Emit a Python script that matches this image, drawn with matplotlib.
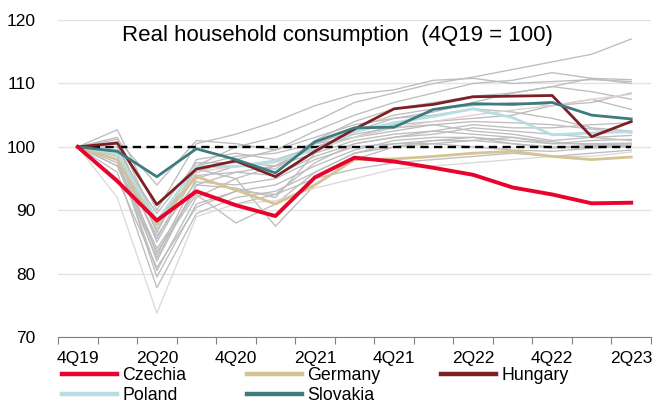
import matplotlib
matplotlib.use("Agg")
import matplotlib.pyplot as plt
import matplotlib.lines as mlines
from matplotlib.ticker import FixedLocator

plt.rcParams['font.family'] = ['Liberation Sans', 'DejaVu Sans']

quarters = ["4Q19", "1Q20", "2Q20", "3Q20", "4Q20", "1Q21", "2Q21", "3Q21",
            "4Q21", "1Q22", "2Q22", "3Q22", "4Q22", "1Q23", "2Q23"]

czechia  = [100, 94.6, 88.4, 93.0, 90.8, 89.1, 95.2, 98.3, 97.7, 96.7, 95.6, 93.6, 92.5, 91.1, 91.2]
germany  = [100, 98.0, 87.8, 95.3, 93.2, 91.0, 94.0, 98.0, 98.1, 98.5, 99.0, 99.3, 98.5, 98.0, 98.4]
hungary  = [100, 100.6, 90.9, 96.5, 97.8, 95.3, 99.3, 102.8, 106.0, 106.7, 107.9, 108.0, 108.1, 101.6, 104.0]
poland   = [100, 98.9, 88.3, 96.9, 96.9, 97.8, 99.5, 102.4, 103.8, 104.8, 106.0, 104.6, 101.9, 102.2, 102.4]
slovakia = [100, 99.3, 95.3, 99.7, 98.0, 95.9, 100.8, 103.0, 103.1, 105.9, 106.8, 106.7, 107.0, 105.0, 104.4]

others = [
    [100, 101.5, 88.0, 97.0, 100.0, 101.5, 104.0, 107.0, 108.5, 110.0, 111.0, 112.2, 113.4, 114.6, 117.0],
    [100, 102.7, 90.0, 100.5, 102.0, 104.0, 106.5, 108.3, 109.0, 110.5, 110.8, 110.0, 110.3, 110.6, 110.3],
    [100, 100.5, 85.0, 96.0, 98.0, 99.5, 102.5, 105.0, 107.0, 108.5, 110.0, 110.5, 111.7, 110.8, 110.0],
    [100, 99.5, 83.0, 95.0, 97.0, 96.5, 101.0, 104.0, 106.0, 107.0, 108.0, 108.5, 109.5, 110.8, 110.6],
    [100, 99.0, 82.0, 94.0, 93.5, 92.0, 99.0, 103.0, 105.0, 106.0, 106.5, 107.0, 106.5, 107.5, 105.9],
    [100, 98.0, 80.5, 92.0, 95.0, 97.0, 100.5, 102.5, 104.5, 105.0, 106.0, 105.5, 104.5, 103.0, 102.5],
    [100, 100.8, 86.5, 98.0, 99.0, 98.0, 100.0, 101.5, 102.5, 103.5, 104.0, 103.8, 103.5, 102.8, 102.2],
    [100, 97.5, 84.0, 93.0, 91.0, 92.5, 97.5, 100.5, 101.5, 102.0, 103.0, 102.5, 102.0, 101.5, 101.8],
    [100, 98.5, 79.5, 91.0, 93.0, 94.0, 97.0, 99.5, 101.0, 101.5, 101.5, 101.0, 100.5, 101.0, 101.2],
    [100, 96.0, 77.8, 89.5, 92.0, 93.0, 96.0, 99.0, 100.0, 100.5, 101.0, 101.5, 100.5, 100.5, 100.6],
    [100, 99.2, 87.0, 96.5, 95.0, 87.5, 94.0, 98.0, 100.0, 101.0, 101.5, 100.5, 100.0, 100.2, 100.3],
    [100, 97.0, 83.5, 92.5, 88.0, 91.0, 96.0, 99.0, 100.5, 101.0, 101.0, 100.5, 99.8, 100.0, 100.2],
    [100, 100.0, 88.5, 95.5, 96.0, 97.0, 99.0, 101.0, 102.0, 102.5, 103.5, 103.0, 103.0, 103.5, 103.8],
    [100, 98.8, 85.5, 97.0, 98.5, 99.0, 100.5, 101.5, 103.5, 104.0, 104.5, 105.0, 106.5, 107.0, 108.5],
    [100, 101.2, 94.0, 101.0, 100.5, 99.5, 101.5, 103.5, 104.5, 105.5, 107.0, 108.5, 109.5, 108.7, 107.5],
    [100, 99.0, 89.5, 97.5, 97.5, 97.0, 100.0, 102.0, 103.0, 103.5, 102.5, 102.0, 101.0, 101.5, 101.0],
    [100, 97.0, 82.5, 94.0, 96.0, 95.5, 98.5, 100.5, 101.5, 102.5, 102.0, 101.5, 100.8, 100.3, 100.5],
    [100, 98.0, 86.0, 94.5, 94.0, 95.0, 98.0, 100.0, 100.5, 100.5, 100.0, 99.5, 99.3, 99.8, 100.1],
    [100, 95.0, 81.0, 90.5, 93.0, 92.5, 95.0, 96.5, 97.5, 98.0, 98.5, 99.0, 98.5, 99.0, 99.5],
]
light_others = [
    [100, 99.5, 87.5, 96.0, 97.0, 97.5, 99.5, 101.5, 103.0, 104.0, 105.0, 105.8, 106.5, 107.5, 108.3],
    [100, 92.0, 73.8, 89.0, 91.0, 91.5, 93.5, 95.0, 96.5, 97.0, 97.5, 98.0, 98.5, 98.5, 99.2],
]
baseline = [100] * len(quarters)

x = list(range(len(quarters)))

fig = plt.figure(figsize=(6.57, 4.04), dpi=100)
ax = fig.add_axes([58/657, 1-337.2/404, (651-58)/657, (337.2-20)/404])

for s in others:
    ax.plot(x, s, color="#BDBDBD", lw=0.95, zorder=2)
ax.plot(x, light_others[0], color="#E3CFCF", lw=0.95, zorder=2)
ax.plot(x, light_others[1], color="#DADADA", lw=0.95, zorder=2)

ax.plot(x, baseline, color="black", lw=1.7, dashes=(3.5, 2.3), zorder=3)

colors = {"Czechia": "#E8032E", "Germany": "#D6C394", "Hungary": "#7E1F24",
          "Poland": "#B7DEE2", "Slovakia": "#3D7B7F"}
ax.plot(x, germany, color=colors["Germany"], lw=2.0, zorder=4)
ax.plot(x, poland, color=colors["Poland"], lw=2.0, zorder=4)
ax.plot(x, hungary, color=colors["Hungary"], lw=2.0, zorder=5)
ax.plot(x, slovakia, color=colors["Slovakia"], lw=2.0, zorder=5)
ax.plot(x, czechia, color=colors["Czechia"], lw=2.8, zorder=6)

ax.set_xlim(-0.5, len(quarters) - 0.5)
ax.set_ylim(70, 120)
ax.set_yticks([70, 80, 90, 100, 110, 120])
ax.grid(axis="y", color="#E3E3E3", lw=1.0, zorder=0)
ax.set_axisbelow(True)

ax.set_xticks(x[::2])
ax.set_xticklabels(quarters[::2])
ax.xaxis.set_minor_locator(FixedLocator([i - 0.5 for i in range(len(quarters) + 1)]))
ax.tick_params(axis="x", which="major", length=0, pad=10, labelsize=12.5)
ax.tick_params(axis="x", which="minor", length=5, color="#808080", width=0.8)
ax.tick_params(axis="y", length=0, pad=16, labelsize=12.5)

for sp in ["top", "right", "left"]:
    ax.spines[sp].set_visible(False)
ax.spines["bottom"].set_color("#808080")
ax.spines["bottom"].set_linewidth(0.8)

ax.text(0.472, (337.2-41)/317.2, "Real household consumption  (4Q19 = 100)", transform=ax.transAxes,
        ha="center", va="baseline", fontsize=16)

# legend filled column-wise: order gives rows Czechia/Germany/Hungary, Poland/Slovakia
leg_order = ["Czechia", "Poland", "Germany", "Slovakia", "Hungary"]
handles = [mlines.Line2D([], [], color=colors[n], lw=3.2) for n in leg_order]
fig.legend(handles, leg_order, loc="upper left", bbox_to_anchor=(62/657, 1-367.5/404),
           ncol=3, frameon=False, fontsize=12.8, handlelength=3.1, handletextpad=0.3,
           columnspacing=3.4, labelspacing=0.14, borderpad=0, borderaxespad=0)

fig.savefig("out.png", dpi=100)
